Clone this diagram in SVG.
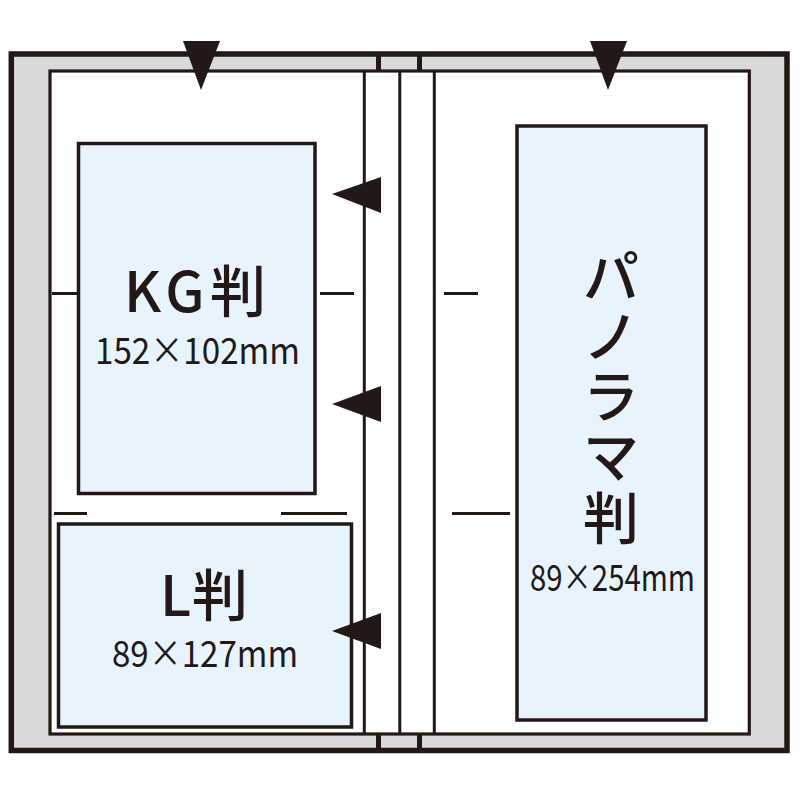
<svg xmlns="http://www.w3.org/2000/svg" width="800" height="800" viewBox="0 0 800 800">
<style>
.ln{stroke:#231815;fill:none}
.photo{fill:#e7f4fd;stroke:#231815;stroke-width:3.5}
.tri{fill:#231815}
.big{font-family:"Noto Sans CJK JP","Noto Sans",sans-serif;font-size:56px;font-weight:500;fill:#231815}
.small{font-family:"Noto Sans CJK JP","Noto Sans",sans-serif;font-size:37px;font-weight:400;fill:#231815}
</style>
<rect width="800" height="800" fill="#ffffff"/>
<g id="album">
<rect x="11.3" y="54" width="775.7" height="696.5" fill="#dadada" stroke="#231815" stroke-width="5.5"/>
<rect x="376" y="56" width="5" height="14" fill="#231815"/>
<rect x="417" y="56" width="5" height="14" fill="#231815"/>
<rect x="376" y="734" width="5" height="14" fill="#231815"/>
<rect x="417" y="734" width="5" height="14" fill="#231815"/>
<rect x="50" y="71" width="699.3" height="663" fill="#ffffff" stroke="#231815" stroke-width="3.2"/>
<line class="ln" x1="364.3" y1="71" x2="364.3" y2="734" stroke-width="3"/>
<line class="ln" x1="399.8" y1="71" x2="399.8" y2="734" stroke-width="3"/>
<line class="ln" x1="434.3" y1="71" x2="434.3" y2="734" stroke-width="3"/>
</g>
<g id="marks" class="ln" stroke-width="3">
<line x1="52" y1="293.5" x2="78" y2="293.5"/>
<line x1="320" y1="293.5" x2="354" y2="293.5"/>
<line x1="444" y1="293.5" x2="478" y2="293.5"/>
<line x1="54" y1="513.5" x2="87" y2="513.5"/>
<line x1="281" y1="513.5" x2="347" y2="513.5"/>
<line x1="452" y1="513.5" x2="510" y2="513.5"/>
</g>
<g id="kg">
<rect class="photo" x="78.5" y="143.5" width="236.5" height="350"/>
<text class="big" x="124" y="312" textLength="142" lengthAdjust="spacing">KG判</text>
<text class="small" x="95" y="364" textLength="205" lengthAdjust="spacingAndGlyphs">152×102mm</text>
</g>
<g id="l">
<rect class="photo" x="58.5" y="524" width="293" height="203"/>
<text class="big" x="160" y="616" textLength="88" lengthAdjust="spacing">L判</text>
<text class="small" x="112" y="667" textLength="186" lengthAdjust="spacingAndGlyphs">89×127mm</text>
</g>
<g id="panorama">
<rect class="photo" x="517" y="126" width="189" height="594"/>
<text class="big" x="611" y="297" text-anchor="middle">パ</text>
<text class="big" x="611" y="357" text-anchor="middle">ノ</text>
<text class="big" x="611" y="417" text-anchor="middle">ラ</text>
<text class="big" x="611" y="477" text-anchor="middle">マ</text>
<text class="big" x="611" y="539" text-anchor="middle">判</text>
<text class="small" x="530" y="591" textLength="165" lengthAdjust="spacingAndGlyphs">89×254mm</text>
</g>
<g id="arrows">
<polygon class="tri" points="183,41 220,41 201,90"/>
<polygon class="tri" points="590,41 627,41 608,90"/>
<polygon class="tri" points="332,194 381,177 381,213"/>
<polygon class="tri" points="332,404 381,386 381,422"/>
<polygon class="tri" points="332,631 381,613 381,649"/>
</g>
</svg>
